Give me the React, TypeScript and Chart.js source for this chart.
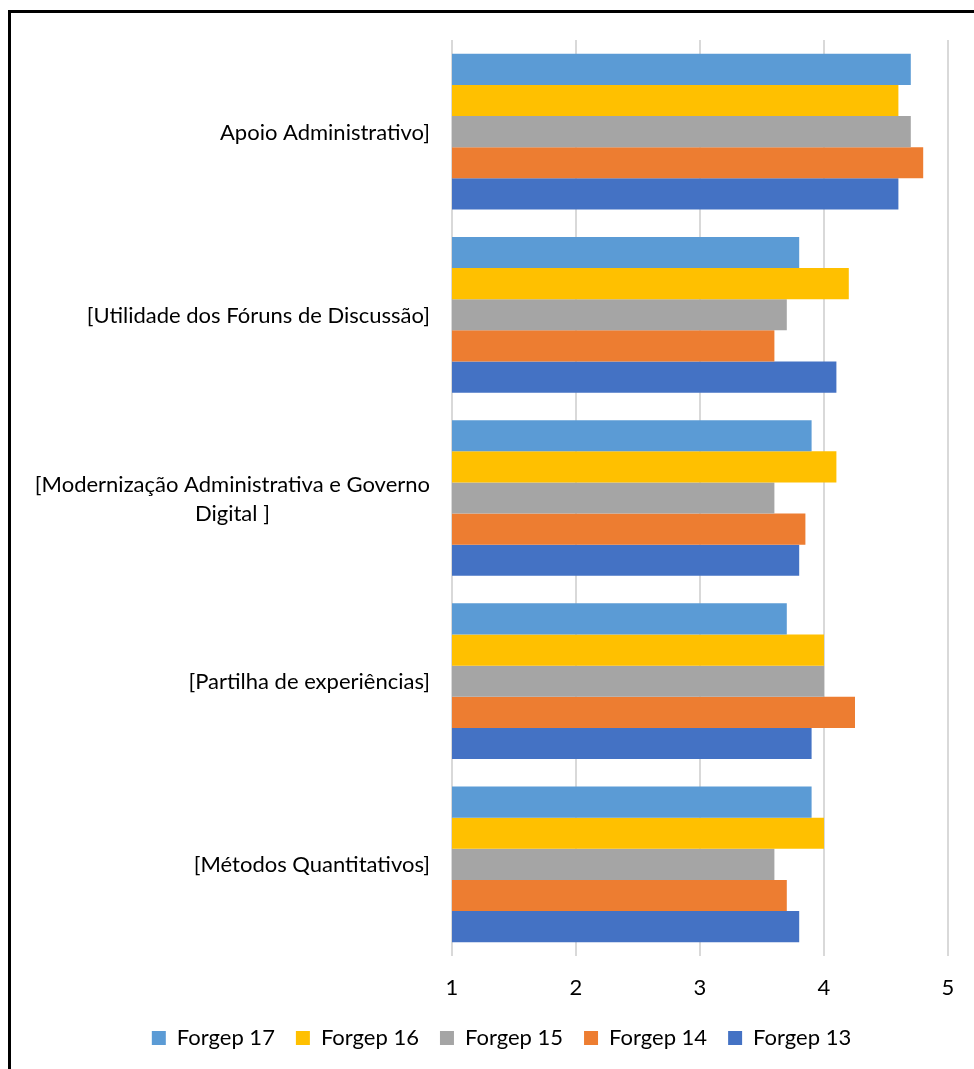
import React, { useEffect, useRef } from "react";
import { Chart, registerables } from "chart.js";
Chart.register(...registerables);

const categories: string[][] = [
  ["Apoio Administrativo]"],
  ["[Utilidade dos Fóruns de Discussão]"],
  ["[Modernização Administrativa e Governo", "Digital ]"],
  ["[Partilha de experiências]"],
  ["[Métodos Quantitativos]"],
];
const seriesNames = ["Forgep 17", "Forgep 16", "Forgep 15", "Forgep 14", "Forgep 13"];
const forgep17 = [4.7, 3.8, 3.9, 3.7, 3.9];
const forgep16 = [4.6, 4.2, 4.1, 4.0, 4.0];
const forgep15 = [4.7, 3.7, 3.6, 4.0, 3.6];
const forgep14 = [4.8, 3.6, 3.85, 4.25, 3.7];
const forgep13 = [4.6, 4.1, 3.8, 3.9, 3.8];
const xTicks = [1, 2, 3, 4, 5];
const seriesColors = ["#5B9BD5", "#FFC000", "#A5A5A5", "#ED7D31", "#4472C4"];

const FONT = "Lato";
const LABEL_SIZE = 22;

const labelPlugin = {
  id: "catLabels",
  afterDraw(chart: any) {
    const ctx = chart.ctx;
    const yScale = chart.scales.y;
    ctx.save();
    ctx.font = `${LABEL_SIZE}px ${FONT}`;
    ctx.fillStyle = "#000";
    ctx.textBaseline = "middle";
    ctx.textAlign = "center";
    const right = chart.chartArea.left - 22;
    const lh = 29;
    categories.forEach((lines, i) => {
      const cy = yScale.getPixelForValue(i) + 1;
      const w = Math.max(...lines.map((l) => ctx.measureText(l).width));
      const cx = right - w / 2;
      lines.forEach((l, j) => ctx.fillText(l, cx, cy + (j - (lines.length - 1) / 2) * lh));
    });
    ctx.restore();
  },
};

export default function App() {
  const ref = useRef<HTMLCanvasElement | null>(null);
  useEffect(() => {
    if (!ref.current) return;
    const allData = [forgep17, forgep16, forgep15, forgep14, forgep13];
    const chart = new Chart(ref.current, {
      type: "bar",
      data: {
        labels: categories.map((c) => c.join(" ")),
        datasets: seriesNames.map((name, i) => ({
          label: name,
          data: allData[i],
          backgroundColor: seriesColors[i],
          borderWidth: 0,
          categoryPercentage: 0.85,
          barPercentage: 1,
        })),
      },
      options: {
        indexAxis: "y",
        animation: false,
        responsive: false,
        devicePixelRatio: 1,
        layout: { padding: { left: 44, right: 26, top: 27, bottom: 24 } },
        scales: {
          x: {
            min: 1,
            max: 5,
            afterBuildTicks: (s: any) => {
              s.ticks = xTicks.map((v) => ({ value: v }));
            },
            afterFit: (s: any) => {
              s.height = 50;
            },
            ticks: {
              color: "#000",
              font: { family: FONT, size: 22 },
              padding: 19,
            },
            grid: { color: "#D9D9D9", lineWidth: 2, drawTicks: false },
            border: { display: false },
          },
          y: {
            ticks: { display: false },
            grid: { display: false },
            border: { display: false },
            afterFit: (s: any) => {
              s.width = 397;
            },
          },
        },
        plugins: {
          legend: {
            position: "bottom",
            labels: {
              boxWidth: 14,
              boxHeight: 14,
              padding: 21,
              color: "#000",
              font: { family: FONT, size: 22 },
            },
          },
          tooltip: { enabled: false },
        },
      },
      plugins: [labelPlugin],
    });
    return () => chart.destroy();
  }, []);
  return (
    <div
      style={{
        position: "fixed",
        left: 8,
        top: 10,
        width: 966,
        height: 1059,
        borderLeft: "3px solid #000",
        borderTop: "3px solid #000",
        overflow: "hidden",
        background: "#fff",
      }}
    >
      <canvas ref={ref} width={963} height={1070} style={{ display: "block", width: 963, height: 1070 }} />
    </div>
  );
}
